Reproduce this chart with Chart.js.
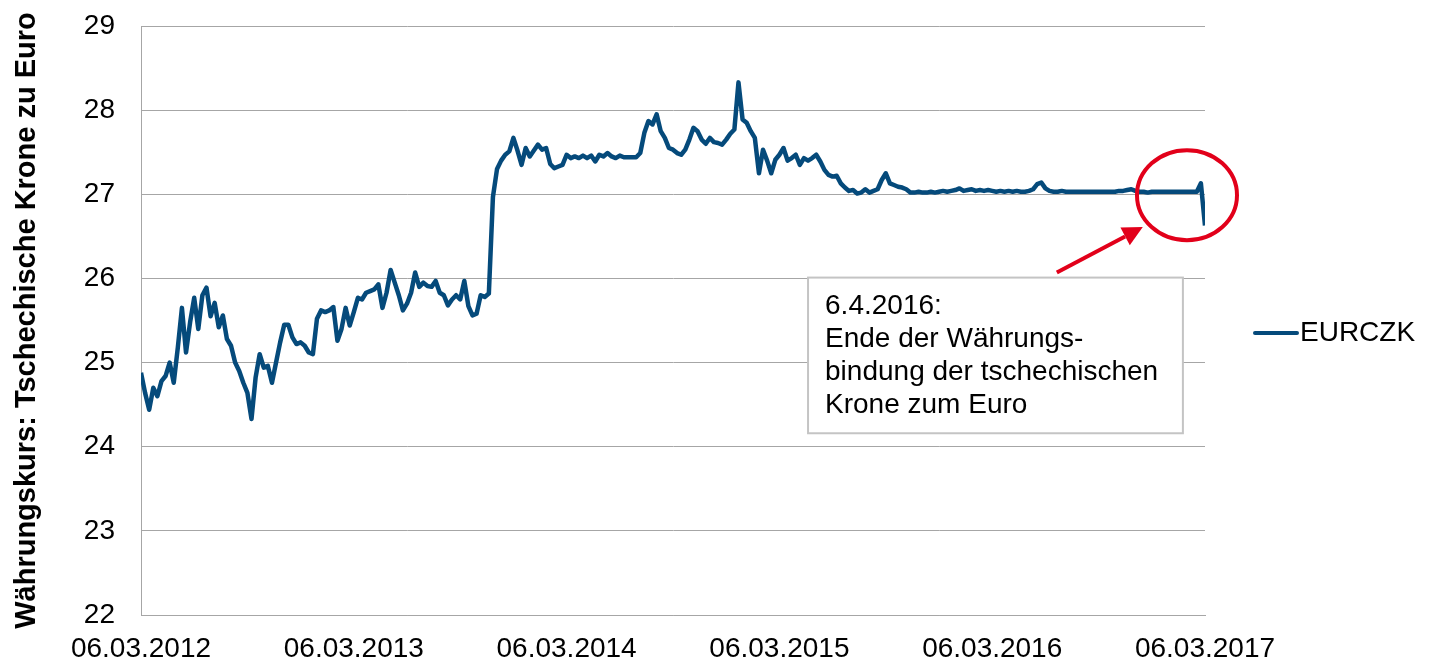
<!DOCTYPE html>
<html lang="de">
<head>
<meta charset="utf-8">
<title>EURCZK</title>
<script src="https://cdn.jsdelivr.net/npm/chart.js@4.4.1/dist/chart.umd.min.js"></script>
<style>
  html, body { margin: 0; padding: 0; background: #fff; }
  #wrap { width: 1438px; height: 664px; }
</style>
</head>
<body>
<div id="wrap"><canvas id="chart-eurczk" width="1438" height="664"></canvas></div>
<script>
// weekly samples, week 0 = 06.03.2012
const tickLabels = ['06.03.2012', '06.03.2013', '06.03.2014', '06.03.2015', '06.03.2016', '06.03.2017'];
const weeksPerYear = 52;
const seriesName = 'EURCZK';
const eurczk = [
  24.88, 24.64, 24.44, 24.70, 24.60, 24.78, 24.84, 25.00, 24.76, 25.18,
  25.65, 25.12, 25.48, 25.77, 25.40, 25.80, 25.89, 25.55, 25.71, 25.42,
  25.56, 25.28, 25.20, 25.00, 24.90, 24.76, 24.64, 24.33, 24.82, 25.10,
  24.94, 24.96, 24.76, 25.00, 25.24, 25.45, 25.45, 25.30, 25.22, 25.24,
  25.20, 25.12, 25.10, 25.52, 25.62, 25.60, 25.62, 25.66, 25.26, 25.40,
  25.65, 25.44, 25.60, 25.77, 25.75, 25.83, 25.85, 25.87, 25.93, 25.65,
  25.83, 26.10, 25.95, 25.80, 25.62, 25.70, 25.83, 26.07, 25.90, 25.95,
  25.91, 25.90, 25.97, 25.83, 25.80, 25.68, 25.75, 25.80, 25.75, 25.97,
  25.67, 25.56, 25.58, 25.80, 25.78, 25.82, 26.97, 27.30, 27.40, 27.47,
  27.51, 27.67, 27.52, 27.35, 27.55, 27.45, 27.52, 27.59, 27.53, 27.55,
  27.36, 27.31, 27.33, 27.35, 27.47, 27.43, 27.45, 27.43, 27.46, 27.43,
  27.46, 27.39, 27.47, 27.45, 27.49, 27.45, 27.43, 27.46, 27.44, 27.44,
  27.44, 27.44, 27.49, 27.73, 27.87, 27.83, 27.95, 27.75, 27.67, 27.55,
  27.53, 27.49, 27.47, 27.53, 27.65, 27.79, 27.75, 27.65, 27.60, 27.67,
  27.62, 27.61, 27.59, 27.65, 27.72, 27.77, 28.33, 27.89, 27.85, 27.75,
  27.67, 27.25, 27.53, 27.40, 27.25, 27.41, 27.47, 27.55, 27.40, 27.43,
  27.47, 27.35, 27.43, 27.40, 27.43, 27.47, 27.39, 27.29, 27.23, 27.21,
  27.22, 27.13, 27.08, 27.04, 27.05, 27.01, 27.02, 27.06, 27.02, 27.04,
  27.06, 27.17, 27.25, 27.13, 27.11, 27.09, 27.08, 27.06, 27.02, 27.02,
  27.03, 27.02, 27.02, 27.03, 27.02, 27.03, 27.04, 27.03, 27.04, 27.05,
  27.07, 27.04, 27.05, 27.06, 27.04, 27.05, 27.04, 27.05, 27.04, 27.03,
  27.04, 27.03, 27.04, 27.03, 27.04, 27.03, 27.03, 27.04, 27.06, 27.12,
  27.14, 27.07, 27.04, 27.03, 27.03, 27.04, 27.03, 27.03, 27.03, 27.03,
  27.03, 27.03, 27.03, 27.03, 27.03, 27.03, 27.03, 27.03, 27.03, 27.04,
  27.04, 27.05, 27.06, 27.04, 27.03, 27.03, 27.02, 27.03, 27.03, 27.03,
  27.03, 27.03, 27.03, 27.03, 27.03, 27.03, 27.03, 27.03, 27.03, 27.13,
  26.63
];
const noteLines = ['6.4.2016:', 'Ende der Währungs-', 'bindung der tschechischen', 'Krone zum Euro'];

// annotation anchors in axis units (weeks / CZK)
const noteBox = { from: 163, to: 254.6, top: 26.01, bottom: 24.16 };
const ring = { week: 255.6, rate: 26.99, rx: 50, ry: 45 };
const arrow = { fromWeek: 223.8, fromRate: 26.07, toWeek: 244.8, toRate: 26.61 };

const FONT = '"Liberation Sans", Arial, sans-serif';
const LINE_COLOR = '#054a7b';
const RED = '#e2001a';
Chart.defaults.font.family = FONT;
Chart.defaults.color = '#000';

const overlay = {
  id: 'overlay',
  afterDatasetsDraw(chart) {
    const ctx = chart.ctx;
    const px = v => chart.scales.x.getPixelForValue(v);
    const py = v => chart.scales.y.getPixelForValue(v);
    ctx.save();

    // note box
    const x1 = px(noteBox.from), x2 = px(noteBox.to);
    const y1 = py(noteBox.top), y2 = py(noteBox.bottom);
    ctx.fillStyle = '#fff';
    ctx.fillRect(x1, y1, x2 - x1, y2 - y1);
    ctx.strokeStyle = '#c4c4c4';
    ctx.lineWidth = 2;
    ctx.strokeRect(x1, y1, x2 - x1, y2 - y1);
    ctx.fillStyle = '#000';
    ctx.font = '28px ' + FONT;
    ctx.textAlign = 'left';
    ctx.textBaseline = 'alphabetic';
    noteLines.forEach((t, i) => ctx.fillText(t, x1 + 17, y1 + 36 + i * 33.3));

    // arrow
    const ax = px(arrow.fromWeek), ay = py(arrow.fromRate);
    const bx = px(arrow.toWeek), by = py(arrow.toRate);
    const ang = Math.atan2(by - ay, bx - ax);
    const head = 20, half = 10;
    const hx = bx - head * Math.cos(ang), hy = by - head * Math.sin(ang);
    ctx.strokeStyle = RED;
    ctx.fillStyle = RED;
    ctx.lineWidth = 4;
    ctx.beginPath();
    ctx.moveTo(ax, ay);
    ctx.lineTo(hx, hy);
    ctx.stroke();
    ctx.beginPath();
    ctx.moveTo(bx, by);
    ctx.lineTo(hx + half * Math.sin(ang), hy - half * Math.cos(ang));
    ctx.lineTo(hx - half * Math.sin(ang), hy + half * Math.cos(ang));
    ctx.closePath();
    ctx.fill();

    // ring
    ctx.beginPath();
    ctx.ellipse(px(ring.week), py(ring.rate), ring.rx, ring.ry, 0, 0, Math.PI * 2);
    ctx.lineWidth = 4;
    ctx.stroke();
    ctx.restore();
  },
  afterDraw(chart) {
    // legend on the right
    const ctx = chart.ctx;
    const x = chart.chartArea.right + 50, y = 333;
    ctx.save();
    ctx.strokeStyle = LINE_COLOR;
    ctx.lineWidth = 4;
    ctx.lineCap = 'round';
    ctx.beginPath();
    ctx.moveTo(x, y);
    ctx.lineTo(x + 42, y);
    ctx.stroke();
    ctx.fillStyle = '#000';
    ctx.font = '28px ' + FONT;
    ctx.textBaseline = 'middle';
    ctx.fillText(seriesName, x + 45, y);
    ctx.restore();
  }
};

const ctx = document.getElementById('chart-eurczk').getContext('2d');
new Chart(ctx, {
  type: 'line',
  data: {
    datasets: [{
      label: seriesName,
      data: eurczk.map((v, i) => ({ x: i, y: v })),
      borderColor: LINE_COLOR,
      borderWidth: 4.5,
      pointRadius: 0,
      tension: 0,
      borderJoinStyle: 'round',
      fill: false
    }]
  },
  options: {
    responsive: false,
    animation: false,
    layout: { padding: { top: 26, right: 233, bottom: 0, left: 0 } },
    scales: {
      x: {
        type: 'linear',
        min: 0,
        max: weeksPerYear * (tickLabels.length - 1),
        afterFit: s => { s.height = 49; },
        grid: { display: false, drawTicks: false },
        border: { color: '#a6a6a6', width: 1 },
        ticks: {
          stepSize: weeksPerYear,
          autoSkip: false,
          maxRotation: 0,
          padding: 17,
          font: { size: 28 },
          callback: v => tickLabels[v / weeksPerYear]
        }
      },
      y: {
        min: 22,
        max: 29,
        afterFit: s => { s.width = 141; s.paddingTop = 0; s.paddingBottom = 0; },
        grid: { color: '#a6a6a6', drawTicks: false },
        border: { color: '#a6a6a6', width: 1 },
        ticks: { stepSize: 1, padding: 26, font: { size: 28 } },
        title: {
          display: true,
          text: 'Währungskurs: Tschechische Krone zu Euro',
          font: { size: 29, weight: 'bold' },
          padding: { top: 10, bottom: 0 }
        }
      }
    },
    plugins: {
      legend: { display: false },
      tooltip: { enabled: false }
    }
  },
  plugins: [overlay]
});
</script>
</body>
</html>
